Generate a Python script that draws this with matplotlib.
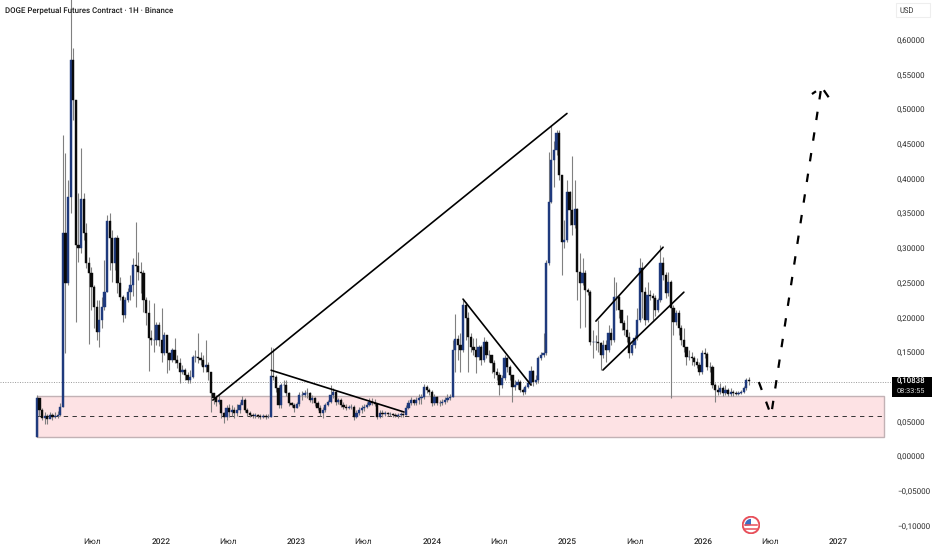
import matplotlib
matplotlib.use('Agg')
import matplotlib.pyplot as plt
import matplotlib.dates as mdates
from matplotlib.patches import Rectangle, Circle, Wedge
import numpy as np

plt.rcParams['font.family'] = ['Roboto', 'DejaVu Sans']
plt.rcParams['text.hinting'] = 'none'

# weekly candles, body runs from the previous close to this close
first_open = 0.029
closes = [
    .085,.068,.056,.059,.055,.060,.058,.059,.060,.072,.323,.251,.374,.572,.514,.305,.301,.372,.323,.279,
    .265,.245,.216,.180,.197,.216,.238,.340,.315,.279,.315,.251,.230,.204,.226,.238,.248,.276,.275,.266,
    .265,.226,.207,.171,.168,.168,.190,.168,.150,.176,.150,.140,.154,.140,.135,.122,.125,.118,.111,.115,
    .144,.144,.143,.140,.130,.132,.122,.092,.085,.079,.082,.063,.058,.071,.065,.068,.063,.068,.075,.082,
    .068,.063,.060,.059,.060,.059,.058,.059,.058,.058,.117,.115,.099,.075,.104,.104,.092,.078,.075,.071,
    .076,.089,.089,.092,.092,.082,.085,.078,.071,.063,.068,.075,.079,.089,.094,.079,.082,.075,.072,.071,
    .072,.072,.058,.063,.068,.071,.072,.075,.079,.078,.076,.058,.063,.062,.063,.062,.062,.060,.059,.060,
    .062,.060,.071,.078,.082,.078,.082,.085,.086,.101,.096,.094,.078,.086,.078,.078,.079,.082,.085,.086,
    .154,.170,.161,.154,.219,.200,.173,.158,.154,.144,.158,.140,.166,.147,.147,.135,.122,.118,.104,.114,
    .143,.130,.118,.101,.104,.108,.096,.094,.101,.107,.124,.108,.111,.143,.147,.150,.279,.367,.428,.442,
    .467,.406,.310,.312,.382,.356,.334,.357,.266,.251,.265,.240,.238,.166,.166,.166,.164,.147,.161,.154,
    .179,.168,.230,.230,.212,.193,.183,.173,.150,.161,.171,.197,.272,.238,.197,.233,.232,.229,.212,.226,
    .279,.262,.236,.252,.215,.194,.207,.186,.168,.158,.144,.144,.143,.137,.132,.122,.150,.148,.130,.130,
    .104,.096,.094,.099,.092,.096,.091,.094,.092,.091,.092,.094,.099,.111,.109]
highs = [
    .089,.085,.071,.065,.062,.065,.063,.065,.066,.078,.464,.438,.399,.720,.590,.514,.380,.445,.380,.337,
    .288,.274,.248,.226,.226,.230,.284,.348,.351,.327,.317,.320,.259,.233,.230,.243,.262,.287,.338,.295,
    .281,.269,.230,.226,.183,.222,.194,.194,.215,.180,.176,.151,.157,.171,.147,.143,.132,.128,.122,.125,
    .147,.154,.179,.151,.147,.168,.137,.122,.092,.089,.091,.082,.065,.075,.076,.075,.072,.076,.079,.088,
    .085,.071,.066,.063,.063,.062,.062,.062,.062,.062,.158,.157,.118,.104,.107,.111,.111,.094,.079,.078,
    .079,.094,.095,.096,.099,.094,.089,.086,.081,.075,.072,.078,.082,.104,.099,.096,.085,.085,.079,.076,
    .075,.076,.075,.068,.072,.075,.076,.079,.085,.085,.084,.078,.068,.068,.066,.065,.065,.063,.063,.063,
    .065,.063,.075,.082,.086,.084,.086,.091,.091,.105,.104,.099,.096,.091,.088,.082,.084,.086,.091,.091,
    .168,.206,.176,.179,.226,.223,.209,.179,.171,.171,.161,.161,.173,.168,.154,.147,.140,.128,.122,.118,
    .147,.144,.132,.118,.111,.112,.111,.099,.104,.111,.131,.125,.118,.145,.151,.179,.284,.439,.478,.456,
    .471,.471,.406,.341,.399,.384,.433,.399,.359,.294,.287,.269,.243,.240,.183,.176,.197,.166,.168,.168,
    .190,.186,.259,.252,.233,.212,.197,.204,.180,.166,.176,.215,.287,.281,.245,.252,.240,.236,.233,.229,
    .305,.288,.266,.266,.255,.219,.212,.212,.190,.186,.158,.154,.151,.145,.143,.137,.154,.157,.151,.137,
    .132,.107,.104,.107,.102,.104,.099,.099,.096,.095,.095,.096,.102,.114,.115]
lows = [
    .029,.059,.053,.048,.048,.056,.053,.056,.056,.059,.072,.150,.248,.351,.485,.194,.281,.294,.312,.272,
    .163,.212,.186,.168,.158,.186,.212,.238,.269,.252,.269,.236,.226,.194,.200,.223,.226,.232,.216,.255,
    .236,.209,.190,.124,.161,.151,.161,.160,.137,.147,.121,.125,.137,.135,.128,.107,.120,.111,.107,.107,
    .114,.137,.135,.132,.122,.122,.111,.065,.076,.073,.076,.056,.049,.053,.058,.059,.056,.059,.063,.076,
    .065,.059,.058,.056,.056,.056,.055,.056,.055,.056,.058,.111,.094,.071,.071,.094,.088,.073,.072,.065,
    .071,.073,.082,.086,.085,.079,.078,.073,.068,.059,.056,.065,.073,.078,.085,.075,.076,.072,.069,.068,
    .069,.069,.053,.056,.060,.063,.066,.071,.073,.075,.073,.055,.056,.058,.059,.059,.059,.058,.058,.056,
    .058,.058,.060,.069,.075,.075,.075,.076,.076,.084,.092,.089,.073,.075,.075,.073,.075,.076,.079,.082,
    .086,.122,.140,.122,.151,.168,.122,.151,.147,.121,.140,.132,.137,.143,.137,.121,.114,.111,.089,.099,
    .111,.122,.111,.079,.096,.098,.094,.089,.091,.099,.104,.102,.105,.107,.140,.144,.147,.276,.366,.389,
    .435,.399,.262,.301,.310,.334,.320,.330,.226,.186,.248,.187,.233,.161,.143,.154,.151,.125,.143,.137,
    .151,.161,.166,.212,.200,.183,.176,.166,.143,.147,.157,.168,.194,.200,.190,.194,.226,.197,.203,.209,
    .223,.255,.229,.232,.085,.176,.190,.176,.161,.151,.132,.140,.132,.131,.128,.118,.120,.143,.125,.122,
    .099,.079,.089,.091,.088,.089,.088,.088,.088,.089,.089,.091,.092,.096,.104]

# yearly axis labels
tick_dates = ['2021-07-01', '2022-01-01', '2022-07-01', '2023-01-01', '2023-07-01', '2024-01-01',
              '2024-07-01', '2025-01-01', '2025-07-01', '2026-01-01', '2026-07-01', '2027-01-01']
tick_names = ['Июл', '2022', 'Июл', '2023', 'Июл', '2024', 'Июл', '2025', 'Июл', '2026', 'Июл', '2027']
# 0,10000 sits behind the last price tag, so it is left out
price_ticks = [-.10, -.05, 0, .05, .15, .20, .25, .30, .35, .40, .45, .50, .55, .60]

# drawings on the chart
zone_top = 0.0886
zone_bottom = 0.0288
zone_mid = 0.0584
zone_dates = ['2021-02-01', '2027-05-02']
last_price = 0.10838
trend_lines = [
    (['2022-05-21', '2024-12-30'], [.082, .495]),
    (['2022-10-25', '2023-10-18'], [.125, .0648]),
    (['2024-03-25', '2024-09-24'], [.2275, .1037]),
    (['2025-03-18', '2025-09-15'], [.1958, .3023]),
    (['2025-04-06', '2025-11-10'], [.1253, .2375]),
]
forecast_dates = ['2026-05-31', '2026-07-03', '2026-11-14']
forecast_prices = [.108, .060, .5285]
barb_left = (['2026-10-21', '2026-11-01'], [.523, .527])
barb_right = (['2026-11-22', '2026-12-05'], [.5285, .5184])


def num(d):
    return mdates.date2num(np.datetime64(d))


dates = mdates.date2num(np.datetime64('2021-02-01') + np.arange(len(closes)) * np.timedelta64(7, 'D'))
closes = np.array(closes)
highs = np.array(highs)
lows = np.array(lows)
opens = np.r_[first_open, closes[:-1]]

fig = plt.figure(figsize=(9.32, 5.5), dpi=100)
ax = fig.add_axes([0, 20 / 550, 891 / 932, 530 / 550])

# pink zone
z0, z1 = num(zone_dates[0]), num(zone_dates[1])
ax.add_patch(Rectangle((z0, zone_bottom), z1 - z0, zone_top - zone_bottom,
                       facecolor='#fde2e4', edgecolor='#c2b2b5', lw=1, zorder=1))
ax.plot([z0, z1], [zone_mid, zone_mid], color='#333333', lw=0.7, ls=(0, (4.5, 4.5)), zorder=2)
ax.axhline(last_price, color='#999999', lw=0.7, ls=(0, (1, 1.5)), zorder=2)

# candles
up = closes >= opens
ax.vlines(dates, lows, highs, color='#808080', lw=0.8, zorder=3)
ax.bar(dates, closes - opens, bottom=opens, width=6,
       color=np.where(up, '#1f3a7d', '#0a0a0a'), edgecolor=np.where(up, '#1f3a7d', '#0a0a0a'),
       lw=0.3, zorder=4)

# trend lines
for xs, ys in trend_lines:
    ax.plot([num(d) for d in xs], ys, color='black', lw=1.2, zorder=5, solid_capstyle='round')

# forecast path
ax.plot([num(d) for d in forecast_dates], forecast_prices, color='black', lw=1.6,
        ls=(0, (3.8, 5.6)), zorder=5, dash_capstyle='butt')
for xs, ys in (barb_left, barb_right):
    ax.plot([num(d) for d in xs], ys, color='black', lw=1.6, zorder=5, solid_capstyle='butt')

ax.set_xlim(num('2021-01-01') - 68.4, num('2021-01-01') + 2332)
ax.set_ylim(-0.1052, 0.6585)
ax.set_xticks([num(d) for d in tick_dates])
ax.set_xticklabels(tick_names, fontsize=6, color='#2a2a2a')
for lab, name in zip(ax.get_xticklabels(), tick_names):
    if name != 'Июл':
        lab.set_fontweight('medium')
ax.yaxis.tick_right()
ax.set_yticks(price_ticks)
ax.set_yticklabels([('\u2212' if p < 0 else '') + f'{abs(p):.5f}'.replace('.', ',') for p in price_ticks],
                   fontsize=5.8, color='#2a2a2a', va='center')
ax.tick_params(axis='both', length=0)
ax.tick_params(axis='x', pad=6)
ax.tick_params(axis='y', pad=4.3)
for s in ax.spines.values():
    s.set_visible(False)

fig.text(5 / 932, 1 - 10 / 550, 'DOGE Perpetual Futures Contract · 1H · Binance', fontsize=5.7,
         fontweight='medium', color='#1a1a1a', va='center', ha='left')

# USD box
fig.patches.append(Rectangle((896 / 932, 1 - 17 / 550), 34 / 932, 14 / 550, transform=fig.transFigure,
                             facecolor='white', edgecolor='#eeeeee', lw=0.8))
fig.text(899 / 932, 1 - 10.5 / 550, 'USD', fontsize=5.5, color='#333333', va='center', ha='left')

# last price tag
fig.patches.append(Rectangle((892 / 932, 1 - 397 / 550), 40 / 932, 20 / 550, transform=fig.transFigure,
                             facecolor='black', edgecolor='none', zorder=6))
fig.text(897 / 932, 1 - 381.6 / 550, f'{last_price:.5f}'.replace('.', ','), fontsize=5.7, color='white',
         fontweight='medium', va='center', ha='left', zorder=7)
fig.text(897 / 932, 1 - 391.4 / 550, '08:33:55', fontsize=5.3, color='#dddddd', va='center', ha='left', zorder=7)

# little flag badge
flag = fig.add_axes([742 / 932, 1 - 534 / 550, 18 / 932, 18 / 550])
flag.set_xlim(-1, 1)
flag.set_ylim(-1, 1)
flag.set_aspect('equal')
flag.axis('off')
flag.add_patch(Circle((0, 0), 0.92, facecolor='white', edgecolor='#e8505b', lw=1.4))
for yy in (-0.4, 0.0):
    flag.plot([-0.68, 0.68], [yy, yy], color='#e8505b', lw=1.1)
flag.add_patch(Wedge((0, 0), 0.68, 90, 190, facecolor='#3b6fc4', edgecolor='none'))

fig.savefig('out.png', dpi=100)
